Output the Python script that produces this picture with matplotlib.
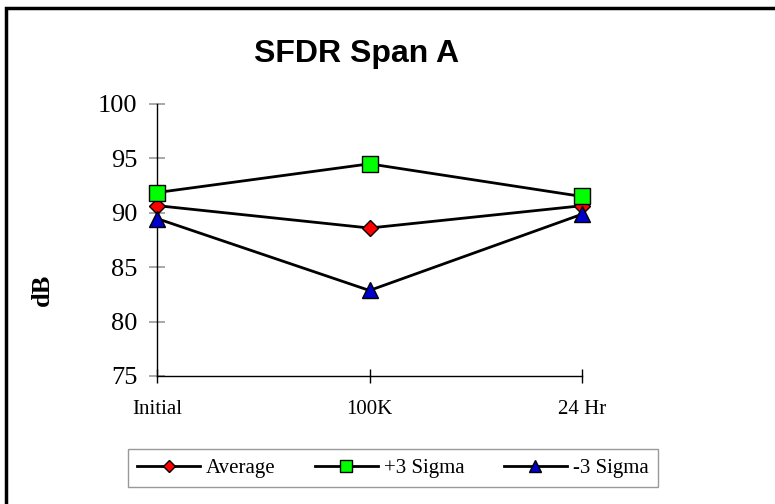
import matplotlib.pyplot as plt
from matplotlib.patches import Rectangle

# Datos
categorias = ['Initial', '100K', '24 Hr']
promedio = [90.66, 88.6, 90.65]
mas_3sigma = [91.86, 94.5, 91.5]
menos_3sigma = [89.47, 82.86, 89.87]

serif = ['Liberation Serif', 'DejaVu Serif']
sans = ['Liberation Sans', 'DejaVu Sans']

fig = plt.figure(figsize=(7.75, 5.04), dpi=100)
ax = fig.add_axes([157/775, 1 - 376/504, 425/775, 272/504])

xs = range(len(categorias))
ax.plot(xs, promedio, color='black', lw=2, marker='D', ms=8,
        mfc='#ff0000', mec='black', mew=1, label='Average', clip_on=False, zorder=3)
ax.plot(xs, mas_3sigma, color='black', lw=2, marker='s', ms=11,
        mfc='#00ff00', mec='black', mew=1, label='+3 Sigma', clip_on=False, zorder=3)
ax.plot(xs, menos_3sigma, color='black', lw=2, marker='^', ms=11,
        mfc='#0000cc', mec='black', mew=1, label='-3 Sigma', clip_on=False, zorder=3)

ax.set_xlim(0, 2)
ax.set_ylim(75, 100)
ax.set_xticks(list(xs))
ax.set_xticklabels(categorias, family=serif, fontsize=15)
ax.set_yticks([75, 80, 85, 90, 95, 100])
for lab in ax.get_yticklabels():
    lab.set_family(serif)
    lab.set_fontsize(19)

ax.spines['top'].set_visible(False)
ax.spines['right'].set_visible(False)
ax.spines['left'].set_linewidth(1)
ax.spines['bottom'].set_linewidth(1)
ax.tick_params(axis='y', direction='inout', length=12, color='#999999', width=1.2, pad=8)
ax.tick_params(axis='x', direction='inout', length=10, color='black', width=1, pad=12)

# Titulo y etiqueta del eje y
fig.text(357/775, 1 - 54/504, 'SFDR Span A', ha='center', va='center',
         family=sans, fontweight='bold', fontsize=23)
fig.text(42/775, 1 - 290/504, 'dB', ha='center', va='center', rotation=90,
         family=serif, fontweight='bold', fontsize=19)

# Leyenda
leg = fig.legend(loc='center', bbox_to_anchor=(393/775, 1 - 468/504), ncol=3,
                 prop={'family': serif, 'size': 15}, frameon=True, fancybox=False,
                 edgecolor='#808080', handlelength=3.0, columnspacing=1.9,
                 handletextpad=0.3, borderpad=0.45, markerscale=0.8)
leg.get_frame().set_linewidth(1)

# Marco exterior (solo se ve arriba e izquierda)
fig.patches.append(Rectangle((6/775, -0.2), 1.2, 1.2 - 8/504,
                             transform=fig.transFigure, fill=False,
                             edgecolor='black', linewidth=2.5))

plt.savefig('out.png', dpi=100)
